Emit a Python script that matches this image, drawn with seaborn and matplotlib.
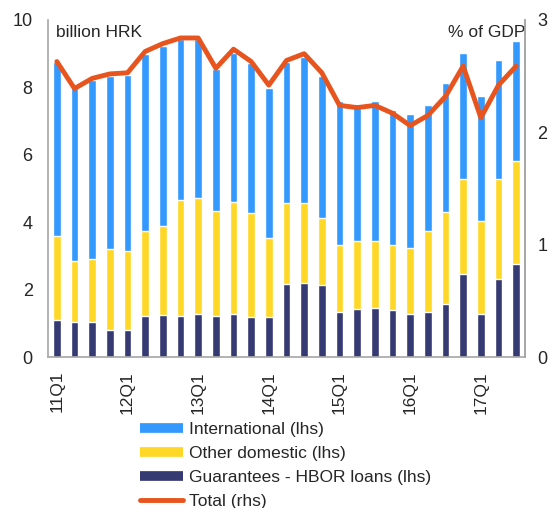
import numpy as np
import pandas as pd
import matplotlib
matplotlib.use("Agg")
import matplotlib.pyplot as plt
from matplotlib.lines import Line2D
import seaborn as sns

sns.set_style("white")
plt.rcParams['font.family'] = ['Liberation Sans', 'DejaVu Sans']

quarters = [f"{y}Q{q}" for y in range(11, 18) for q in range(1, 5)][:27]
hbor = [1.09, 1.05, 1.04, 0.79, 0.80, 1.22, 1.26, 1.23, 1.27, 1.23, 1.27, 1.20, 1.18,
        2.16, 2.19, 2.14, 1.35, 1.42, 1.45, 1.40, 1.29, 1.34, 1.58, 2.46, 1.29, 2.32, 2.76]
other_dom = [2.49, 1.81, 1.88, 2.41, 2.35, 2.51, 2.64, 3.43, 3.45, 3.09, 3.34, 3.07, 2.35,
             2.40, 2.37, 1.98, 1.96, 2.01, 1.98, 1.91, 1.95, 2.39, 2.73, 2.83, 2.76, 2.97, 3.06]
international = [5.18, 5.11, 5.30, 5.14, 5.22, 5.26, 5.33, 4.77, 4.71, 4.22, 4.42, 4.45, 4.44,
                 4.18, 4.33, 4.22, 4.29, 4.07, 4.17, 4.02, 3.96, 3.75, 3.81, 3.72, 3.70, 3.52, 3.57]
total_gdp = [2.63, 2.39, 2.48, 2.52, 2.53, 2.72, 2.79, 2.84, 2.84, 2.57, 2.74, 2.63, 2.42,
             2.64, 2.70, 2.53, 2.24, 2.22, 2.24, 2.17, 2.06, 2.15, 2.32, 2.59, 2.13, 2.42, 2.59]

df = pd.DataFrame({
    "quarter": quarters,
    "hbor": hbor,
    "other": other_dom,
    "intl": international,
    "total": total_gdp,
})
df["pos"] = np.arange(len(df))
df["lvl2"] = df["hbor"] + df["other"]
df["lvl3"] = df["lvl2"] + df["intl"]

c_intl = "#3399FF"
c_other = "#FFD726"
c_hbor = "#363A73"
c_total = "#E8541E"

fig = plt.figure(figsize=(5.5, 5.08), dpi=100)
ax = fig.add_axes([48/550, 1-357/508, (525-48)/550, (357-20)/508])

bw = 0.42
sns.barplot(data=df, x="pos", y="lvl3", color=c_intl, width=bw, ax=ax, saturation=1, native_scale=True)
sns.barplot(data=df, x="pos", y="lvl2", color=c_other, width=bw, ax=ax, saturation=1, native_scale=True)
sns.barplot(data=df, x="pos", y="hbor", color=c_hbor, width=bw, ax=ax, saturation=1, native_scale=True)

ax.set_xlim(-0.5, 26.5)
ax.set_ylim(0, 10)
ax.set_yticks([0, 2, 4, 6, 8, 10])
ax.set_xticks(df["pos"][::4])
ax.set_xticklabels(df["quarter"][::4], rotation=90, va="top")
ax.set_xlabel("")
ax.set_ylabel("")
ax.tick_params(axis="x", length=0, pad=10, labelsize=12.5)
ax.tick_params(axis="y", length=0, pad=11, labelsize=13)

ax2 = ax.twinx()
sns.lineplot(data=df, x="pos", y="total", color=c_total, lw=3.5, ax=ax2, legend=False)
ax2.set_ylim(0, 3)
ax2.set_yticks([0, 1, 2, 3])
ax2.set_ylabel("")
ax2.set_xlim(-0.5, 26.5)
ax2.tick_params(axis="y", length=0, pad=9, labelsize=13)

for a in (ax, ax2):
    for s in a.spines.values():
        s.set_color("#A6A6A6")
        s.set_linewidth(1.2)
    a.spines["top"].set_visible(False)
ax2.spines["left"].set_visible(False)
ax2.spines["bottom"].set_visible(False)
ax.spines["right"].set_visible(True)

ax.text(0.017, 0.963, "billion HRK", transform=ax.transAxes, ha="left", va="center", fontsize=12.5)
ax.text(1.0, 0.963, "% of GDP", transform=ax.transAxes, ha="right", va="center", fontsize=12.5)

handles = [
    Line2D([0], [0], color=c_intl, lw=7, solid_capstyle="butt"),
    Line2D([0], [0], color=c_other, lw=7, solid_capstyle="butt"),
    Line2D([0], [0], color=c_hbor, lw=7, solid_capstyle="butt"),
    Line2D([0], [0], color=c_total, lw=3.5, solid_capstyle="round"),
]
labels = ["International (lhs)", "Other domestic (lhs)", "Guarantees - HBOR loans (lhs)", "Total (rhs)"]
fig.legend(handles, labels, loc="upper left", bbox_to_anchor=(140/550, 1-422/508),
           frameon=False, fontsize=12.5, handlelength=2.5, handletextpad=0.3,
           labelspacing=0.5, borderpad=0, borderaxespad=0)

fig.savefig("out.png", dpi=100)
